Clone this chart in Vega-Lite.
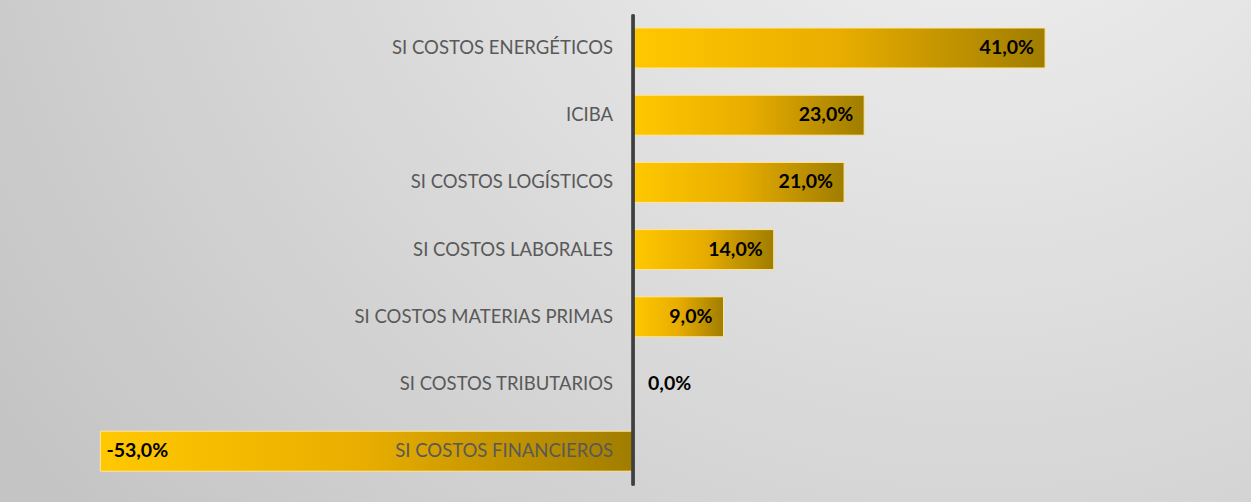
{
  "$schema": "https://vega.github.io/schema/vega-lite/v6.json",
  "width": 1251,
  "height": 502,
  "autosize": {"type": "none"},
  "padding": 0,
  "background": "#d8d8d8",
  "config": {
    "view": {
      "stroke": null,
      "fill": {
        "gradient": "radial",
        "x1": 0.78, "y1": 0.1, "r1": 0,
        "x2": 0.78, "y2": 0.1, "r2": 0.95,
        "stops": [
          {"offset": 0, "color": "#f4f4f4"},
          {"offset": 1, "color": "#c4c4c4"}
        ]
      }
    },
    "locale": {
      "number": {"decimal": ",", "thousands": ".", "grouping": [3], "currency": ["", " €"], "minus": "-"}
    }
  },
  "data": {
    "values": [
      {"categoria": "SI COSTOS ENERGÉTICOS", "valor": 0.41},
      {"categoria": "ICIBA", "valor": 0.23},
      {"categoria": "SI COSTOS LOGÍSTICOS", "valor": 0.21},
      {"categoria": "SI COSTOS LABORALES", "valor": 0.14},
      {"categoria": "SI COSTOS MATERIAS PRIMAS", "valor": 0.09},
      {"categoria": "SI COSTOS TRIBUTARIOS", "valor": 0.0},
      {"categoria": "SI COSTOS FINANCIEROS", "valor": -0.53}
    ]
  },
  "encoding": {
    "y": {
      "field": "categoria",
      "type": "nominal",
      "sort": null,
      "axis": null,
      "scale": {"paddingInner": 0.405, "paddingOuter": 0.4375, "align": 0.476}
    }
  },
  "layer": [
    {
      "mark": {
        "type": "bar",
        "stroke": "#ffe699",
        "strokeWidth": 1,
        "fill": {
          "gradient": "linear",
          "x1": 0, "y1": 0, "x2": 1, "y2": 0,
          "stops": [
            {"offset": 0, "color": "#ffc800"},
            {"offset": 0.5, "color": "#e8ad00"},
            {"offset": 1, "color": "#a07d00"}
          ]
        }
      },
      "encoding": {
        "x": {
          "field": "valor",
          "type": "quantitative",
          "axis": null,
          "scale": {"domain": [-0.6299, 0.6149], "nice": false, "zero": true}
        }
      }
    },
    {
      "mark": {"type": "text", "align": "right", "baseline": "middle", "dx": -20, "font": "Lato", "fontSize": 18.5, "color": "#595959"},
      "encoding": {
        "x": {"datum": 0, "type": "quantitative"},
        "text": {"field": "categoria"}
      }
    },
    {
      "transform": [{"filter": "datum.valor > 0"}],
      "mark": {"type": "text", "align": "right", "baseline": "middle", "dx": -11, "font": "Lato", "fontSize": 19.5, "fontWeight": "bold", "color": "#000000"},
      "encoding": {
        "x": {"field": "valor", "type": "quantitative"},
        "text": {"field": "valor", "type": "quantitative", "format": ".1%"}
      }
    },
    {
      "transform": [{"filter": "datum.valor == 0"}],
      "mark": {"type": "text", "align": "left", "baseline": "middle", "dx": 15, "font": "Lato", "fontSize": 19.5, "fontWeight": "bold", "color": "#000000"},
      "encoding": {
        "x": {"field": "valor", "type": "quantitative"},
        "text": {"field": "valor", "type": "quantitative", "format": ".1%"}
      }
    },
    {
      "transform": [{"filter": "datum.valor < 0"}],
      "mark": {"type": "text", "align": "left", "baseline": "middle", "dx": 6, "font": "Lato", "fontSize": 19.5, "fontWeight": "bold", "color": "#000000"},
      "encoding": {
        "x": {"field": "valor", "type": "quantitative"},
        "text": {"field": "valor", "type": "quantitative", "format": ".1%"}
      }
    },
    {
      "mark": {"type": "rule", "color": "#404040", "strokeWidth": 2.5},
      "encoding": {
        "x": {"datum": 0, "type": "quantitative"},
        "y": {"datum": "SI COSTOS ENERGÉTICOS", "bandPosition": -0.33},
        "y2": {"datum": "SI COSTOS FINANCIEROS", "bandPosition": 1.35}
      }
    }
  ]
}
